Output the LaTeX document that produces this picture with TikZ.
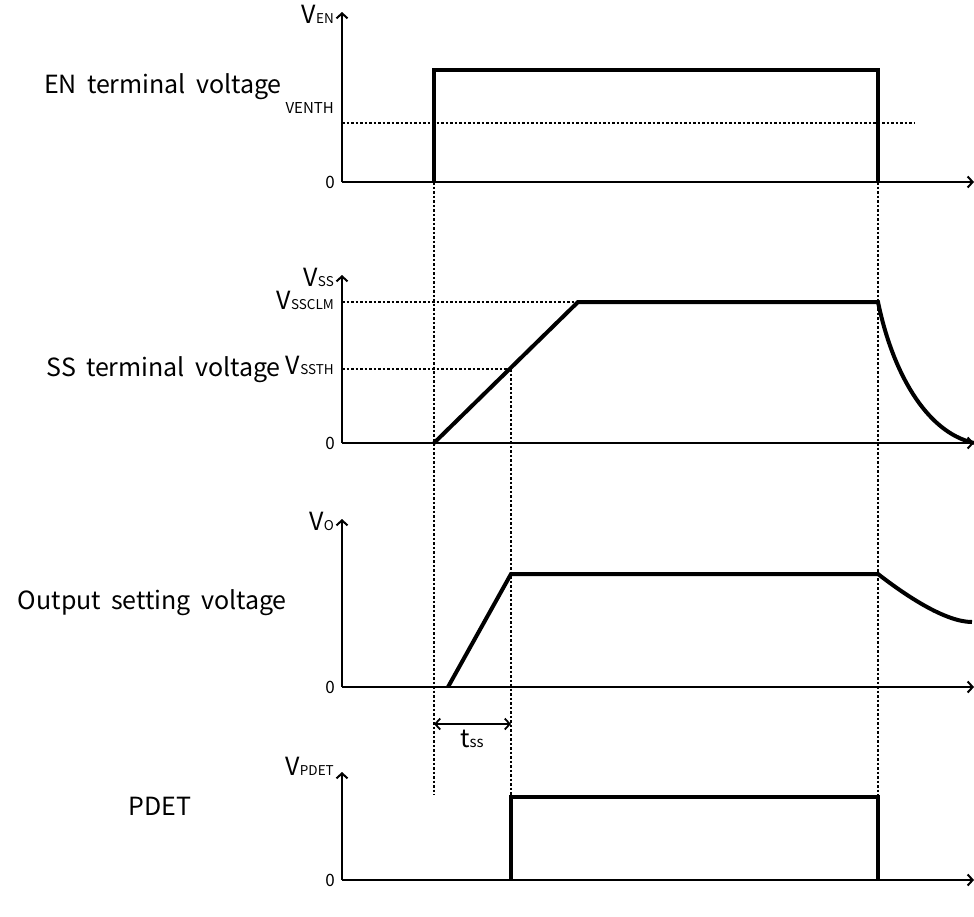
\documentclass[tikz,border=0pt]{standalone}
\usepackage{fontspec}
\setmainfont[WordSpace=1.8]{Noto Sans CJK JP}
\usepackage{tikz}
\usetikzlibrary{arrows.meta}

\newcommand{\Vsub}[1]{V{\fontsize{13.5}{14}\selectfont #1}}

\begin{document}
\begin{tikzpicture}[x=1pt,y=-1pt,
  axis/.style={black,line width=2pt,-{Straight Barb[length=5pt,width=11pt]}},
  sig/.style={black,line width=4pt,line join=miter},
  guide/.style={black,line width=1.6pt,dash pattern=on 2.5pt off 2pt},
  big/.style={font=\fontsize{25}{30}\selectfont,inner sep=0pt},
  small/.style={font=\fontsize{15}{18}\selectfont,inner sep=0pt}]

\useasboundingbox (0,0) rectangle (974,916);

% EN terminal
\coordinate (O1) at (342,182);
\draw[axis] (O1) -- (342,12);
\draw[axis] (O1) -- (974,182);
\node[big,anchor=base east] (ven) at (334,23) {\Vsub{EN}};
\node[small,anchor=base east] (venth) at (334,113) {VENTH};
\node[small,font=\fontsize{17}{18}\selectfont,anchor=base east] (zero1) at (335,188) {0};
\node[big,anchor=base east] (entxt) at (282,93) {EN terminal voltage};
\draw[guide] (342,123) -- (914,123);
\draw[sig] (434,182) -- (434,70) -- (878,70) -- (878,182);

% SS terminal
\coordinate (O2) at (342,443);
\draw[axis] (O2) -- (342,275);
\draw[axis] (O2) -- (974,443);
\node[big,anchor=base east] (vss) at (334,286) {\Vsub{SS}};
\node[big,anchor=base east] (vssclm) at (334,309) {\Vsub{SSCLM}};
\node[big,anchor=base east] (vssth) at (334,374) {\Vsub{SSTH}};
\node[small,font=\fontsize{17}{18}\selectfont,anchor=base east] (zero2) at (335,449) {0};
\node[big,anchor=base east] (sstxt) at (281,376) {SS terminal voltage};
\draw[guide] (342,302) -- (578,302);
\draw[guide] (342,369) -- (511,369);
\draw[sig] (434,443) -- (578,302) -- (878,302)
  .. controls (892,370) and (925,432) .. (974,443);

% output setting
\coordinate (O3) at (342,687);
\draw[axis] (O3) -- (342,519);
\draw[axis] (O3) -- (974,687);
\node[big,anchor=base east] (vo) at (334,530) {\Vsub{O}};
\node[small,font=\fontsize{17}{18}\selectfont,anchor=base east] (zero3) at (335,693) {0};
\node[big,anchor=base east] (outtxt) at (287,609) {Output setting voltage};
\draw[sig] (448,687) -- (511,574) -- (878,574)
  .. controls (905,595) and (945,622) .. (972,622);

% soft start time
\draw[black,line width=1.8pt,{Straight Barb[length=5pt,width=11pt]}-{Straight Barb[length=5pt,width=11pt]}] (434,724) -- (511,724);
\node[big,anchor=base] (tss) at (472,747) {t{\fontsize{15}{15}\selectfont\itshape ss}};

% PDET
\coordinate (O4) at (342,880);
\draw[axis] (O4) -- (342,772);
\node[big,anchor=base east] (vpdet) at (334,775) {\Vsub{PDET}};
\draw[axis] (O4) -- (974,880);
\node[small,font=\fontsize{17}{18}\selectfont,anchor=base east] (zero4) at (335,886) {0};
\node[big,anchor=base] (pdettxt) at (160,815) {PDET};
\draw[sig] (511,880) -- (511,797) -- (878,797) -- (878,880);

% time guides
\draw[guide] (434,182) -- (434,795);
\draw[guide] (511,369) -- (511,797);
\draw[guide] (878,182) -- (878,797);

\end{tikzpicture}
\end{document}
